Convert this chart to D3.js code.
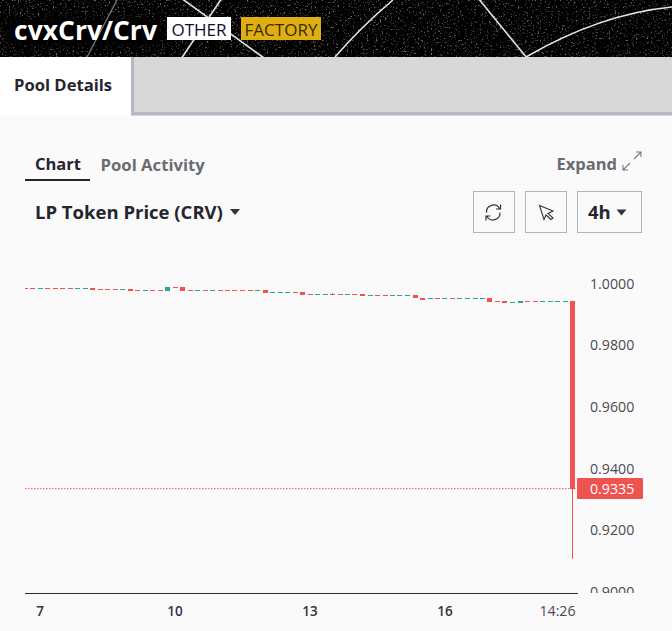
<!DOCTYPE html>
<html><head><meta charset="utf-8">
<script src="https://cdn.jsdelivr.net/npm/d3@7"></script>
<style>
html,body{margin:0;padding:0;background:#fafafa;overflow:hidden}
svg{display:block}
text{font-family:"Open Sans","Noto Sans",sans-serif}
</style></head><body><svg id="c" width="672" height="631"></svg>
<script>
// ---- data ----
const candleIndex = d3.range(74);
const opens = [
.99861,.99861,.99861,.99861,.99861,.99861,.99861,.99861,.99861,.99880,
.99828,.99828,.99828,.99828,.99838,.99796,.99796,.99796,.99796,.99773,
.99903,.99903,.99796,.99796,.99796,.99796,.99796,.99796,.99796,.99796,
.99796,.99796,.99800,.99731,.99731,.99731,.99731,.99741,.99666,.99666,
.99666,.99666,.99666,.99666,.99666,.99670,.99634,.99634,.99634,.99634,
.99634,.99634,.99640,.99560,.99536,.99536,.99536,.99536,.99536,.99536,
.99536,.99536,.99540,.99439,.99445,.99407,.99400,.99439,.99439,.99439,
.99439,.99439,.99439,.99439];
const closes = [
.99861,.99861,.99861,.99861,.99861,.99861,.99861,.99861,.99861,.99800,
.99828,.99828,.99828,.99828,.99770,.99796,.99796,.99796,.99796,.99903,
.99880,.99773,.99796,.99796,.99796,.99796,.99796,.99796,.99796,.99796,
.99796,.99796,.99705,.99731,.99731,.99731,.99731,.99640,.99666,.99666,
.99666,.99666,.99666,.99666,.99666,.99605,.99634,.99634,.99634,.99634,
.99634,.99634,.99545,.99505,.99536,.99536,.99536,.99536,.99536,.99536,
.99536,.99536,.99415,.99439,.99385,.99407,.99450,.99439,.99439,.99439,
.99439,.99439,.99439,.9335];
// 1 = rising candle, 0 = falling candle, as coloured in the picture
const rising = [
0,0,1,0,0,0,0,1,1,0, 0,0,0,1,0,0,1,0,0,1,
0,0,0,1,0,1,0,0,0,0, 0,1,0,1,1,1,0,0,0,1,
1,0,0,1,0,0,1,0,0,1, 1,1,0,0,1,0,1,0,1,1,
1,1,0,0,0,1,1,0,0,1, 1,1,1,0];
const wickLows = {73:.9109};
const wickHighs = {41:.99710};
const priceTicks = [1.0,0.98,0.96,0.94,0.92,0.90];
const timeTicks = [[2,"7"],[20,"10"],[38,"13"],[56,"16"],[71,"14:26"]];
const lastPrice = 0.9335;
const titleText = "cvxCrv/Crv";
const tags = ["OTHER","FACTORY"];
// ------------------------------------

const UP="#26a69a", DOWN="#ef5350";
const svg=d3.select("#c");
const defs=svg.append("defs");

// header texture: noise only, no data
const f=defs.append("filter").attr("id","speck").attr("x",0).attr("y",0).attr("width","100%").attr("height","100%");
f.append("feTurbulence").attr("type","fractalNoise").attr("baseFrequency",0.55).attr("numOctaves",3).attr("seed",7).attr("result","n");
f.append("feColorMatrix").attr("in","n").attr("type","matrix").attr("values","0 0 0 0 1  0 0 0 0 1  0 0 0 0 1  3 3 0 0 -3.3");
const blur=defs.append("filter").attr("id","soft").attr("x","-10%").attr("y","-40%").attr("width","120%").attr("height","180%");
blur.append("feGaussianBlur").attr("stdDeviation",3);
svg.append("rect").attr("width",672).attr("height",631).attr("fill","#fafafa");
svg.append("rect").attr("width",672).attr("height",57).attr("fill","#000");
svg.append("rect").attr("width",672).attr("height",57).attr("filter","url(#speck)").attr("opacity",.42);
const hdr=[
 ["M118,-2L86,59","#777",1.3],
 ["M222,-2L181,59","#e4e4e4",1.6],
 ["M181,-2L264,58","#e4e4e4",1.6],
 ["M393,0Q362,26 335,57","#e4e4e4",1.6],
 ["M478,-2L527,58","#e4e4e4",1.6],
 ["M526,57Q600,14 672,7","#e4e4e4",1.6]];
svg.append("rect").attr("x",8).attr("y",19).attr("width",154).attr("height",26).attr("fill","#000").attr("filter","url(#soft)");
svg.selectAll("path.h").data(hdr).join("path").attr("class","h").attr("d",d=>d[0]).attr("stroke",d=>d[1]).attr("stroke-width",d=>d[2]).attr("fill","none");

svg.append("text").attr("x",14).attr("y",39.5).attr("font-size",26.5).attr("font-weight",700).attr("fill","#fff").text(titleText);
svg.append("rect").attr("x",167).attr("y",17).attr("width",64).attr("height",23).attr("fill","#fff");
svg.append("text").attr("x",199).attr("y",35.5).attr("text-anchor","middle").attr("font-size",17).attr("fill","#0d0d2b").text(tags[0]);
svg.append("rect").attr("x",241).attr("y",17).attr("width",80).attr("height",23).attr("fill","#dfae13");
svg.append("text").attr("x",281).attr("y",35.5).attr("text-anchor","middle").attr("font-size",17).attr("fill","#3a2c00").text(tags[1]);

// tabs
svg.append("rect").attr("y",57).attr("width",672).attr("height",59).attr("fill","#d8d8d8");
svg.append("rect").attr("y",112).attr("x",131).attr("width",541).attr("height",3).attr("fill","#b2b8c4");
svg.append("rect").attr("y",57).attr("x",131).attr("width",3).attr("height",58).attr("fill","#b2b8c4");
svg.append("rect").attr("y",57).attr("width",131).attr("height",59).attr("fill","#fff");
svg.append("text").attr("x",14).attr("y",91).attr("font-size",16.6).attr("font-weight",700).attr("fill","#25252f").text("Pool Details");

// toolbar
svg.append("text").attr("x",35).attr("y",170).attr("font-size",16.5).attr("font-weight",700).attr("fill","#25252f").text("Chart");
svg.append("rect").attr("x",25).attr("y",179).attr("width",65).attr("height",2).attr("fill","#25252f");
svg.append("text").attr("x",100.5).attr("y",171).attr("font-size",16.7).attr("font-weight",700).attr("fill","#6b6b72").text("Pool Activity");
svg.append("text").attr("x",35).attr("y",219).attr("font-size",18.5).attr("font-weight",700).attr("fill","#25252f").text("LP Token Price (CRV)");
svg.append("path").attr("d","M230,209h10l-5,6z").attr("fill","#33333d");
svg.append("text").attr("x",556.5).attr("y",170).attr("font-size",16.5).attr("font-weight",700).attr("fill","#6b6b72").text("Expand");
svg.append("path").attr("d","M623,170L630,163M623,165V170H628M634,159L641,152M636,152H641V157").attr("fill","none").attr("stroke","#777").attr("stroke-width",1.1);
[[473.5,41],[525.5,41],[577.5,64]].forEach(b=>svg.append("rect").attr("x",b[0]).attr("y",191.5).attr("width",b[1]).attr("height",41).attr("fill","none").attr("stroke","#b2b4c0"));
svg.append("path").attr("d","M486.5,212.5A7,7 0 0 1 499.5,208.5M500.5,204.5V209H496M500,212.5A7,7 0 0 1 487,216.5M486,220.5V216H490.5").attr("fill","none").attr("stroke","#333").attr("stroke-width",1.2);
svg.append("path").attr("d","M539.5,205.5L553,211L548,213.5L553,218L551,219.5L546,215L544,219.5Z").attr("fill","none").attr("stroke","#333").attr("stroke-width",1.1);
svg.append("text").attr("x",588).attr("y",219).attr("font-size",18.5).attr("font-weight",700).attr("fill","#25252f").text("4h");
svg.append("path").attr("d","M616.5,209.5h10l-5,6z").attr("fill","#33333d");

// chart
const x=d3.scaleLinear().domain([0,73]).range([25,572.5]);
const y=d3.scaleLinear().domain([1,0.9]).range([284,592.5]);
const bw=5;
defs.append("clipPath").attr("id","plot").append("rect").attr("x",25).attr("y",250).attr("width",553).attr("height",343);
defs.append("clipPath").attr("id","axis").append("rect").attr("x",578).attr("y",250).attr("width",94).attr("height",343);
const plot=svg.append("g").attr("clip-path","url(#plot)");

plot.append("line").attr("x1",25).attr("x2",578).attr("y1",y(lastPrice)-.5).attr("y2",y(lastPrice)-.5)
  .attr("stroke",DOWN).attr("stroke-dasharray","1.5 1.5");

plot.selectAll("rect.body").data(candleIndex).join("rect").attr("class","body")
  .attr("x",i=>Math.round(x(i)-bw/2)).attr("width",bw)
  .attr("y",i=>Math.round(y(Math.max(opens[i],closes[i]))))
  .attr("height",i=>Math.max(1,Math.round(Math.abs(y(opens[i])-y(closes[i])))))
  .attr("fill",i=>rising[i]?UP:DOWN);
plot.selectAll("line.wick").data(candleIndex.filter(i=>wickLows[i]||wickHighs[i])).join("line").attr("class","wick")
  .attr("x1",i=>Math.round(x(i)-.5)+.5).attr("x2",i=>Math.round(x(i)-.5)+.5)
  .attr("y1",i=>y(wickHighs[i]||Math.max(opens[i],closes[i])))
  .attr("y2",i=>y(wickLows[i]||Math.min(opens[i],closes[i])))
  .attr("stroke",DOWN);

// price axis
const yG=svg.append("g").attr("clip-path","url(#axis)");
yG.selectAll("text").data(priceTicks).join("text")
  .attr("x",590).attr("y",d=>y(d)+4.5).attr("font-size",14.2).attr("fill","#4a4a52").text(d=>d3.format(".4f")(d));
svg.append("rect").attr("x",577).attr("y",478).attr("width",66).attr("height",21).attr("rx",1).attr("fill",DOWN);
svg.append("text").attr("x",590).attr("y",493.5).attr("font-size",14.2).attr("fill","#fff").text(d3.format(".4f")(lastPrice));

// time axis
svg.append("line").attr("x1",25).attr("x2",578).attr("y1",593.5).attr("y2",593.5).attr("stroke","#2a2a3a");
svg.selectAll("text.t").data(timeTicks).join("text").attr("class","t")
  .attr("x",d=>x(d[0])).attr("y",616).attr("text-anchor","middle").attr("font-size",d=>d[1].includes(":")?14.2:13.5)
  .attr("font-weight",d=>d[1].includes(":")?400:600).attr("fill",d=>d[1].includes(":")?"#4a4a52":"#33333d").text(d=>d[1]);
</script></body></html>
